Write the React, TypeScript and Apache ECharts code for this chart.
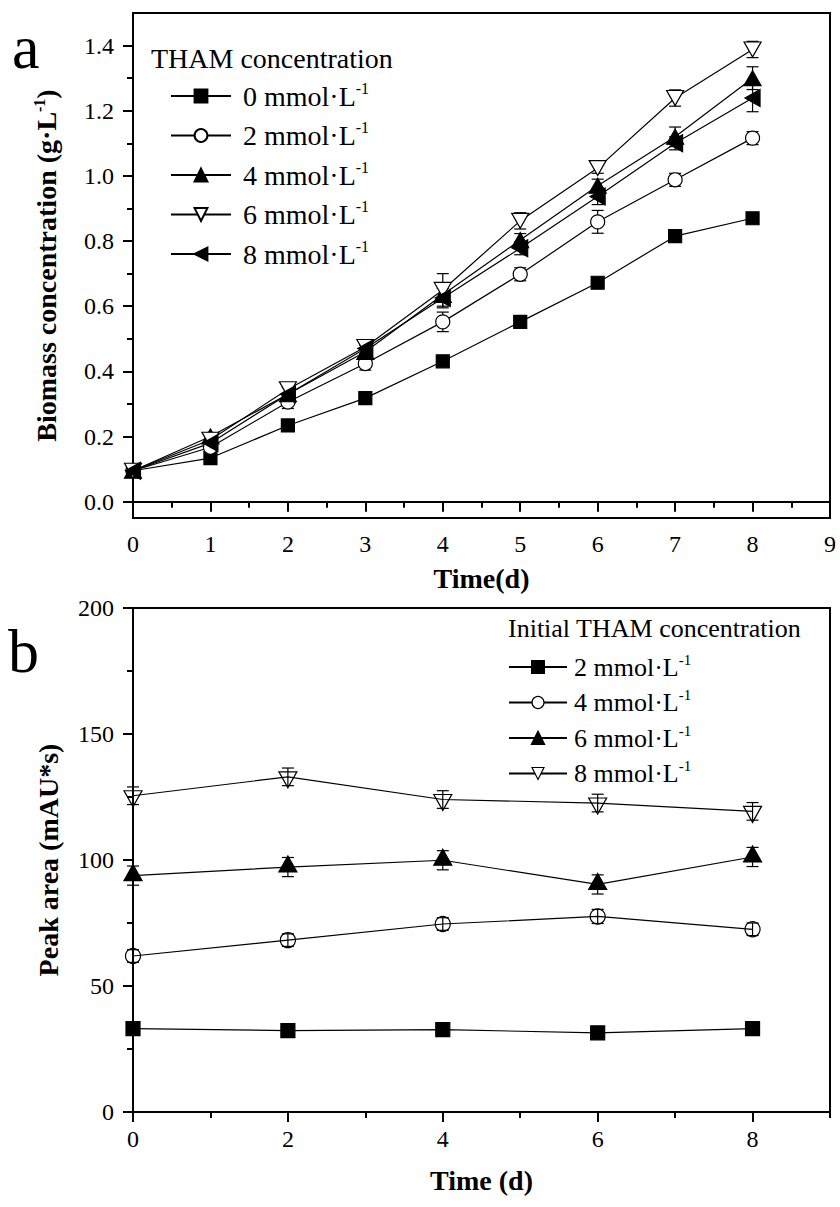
import React, { useEffect, useRef } from 'react';
import * as echarts from 'echarts';

const FONT = '"Liberation Serif", "Times New Roman", Times, serif';

// ---------- Panel a: biomass ----------
const daysA = [0, 1, 2, 3, 4, 5, 6, 7, 8];
const concA = ['0', '2', '4', '6', '8'];
const biomass0 = [0.095, 0.134, 0.234, 0.318, 0.431, 0.552, 0.672, 0.815, 0.870];
const biomass2 = [0.095, 0.167, 0.306, 0.424, 0.552, 0.698, 0.859, 0.988, 1.116];
const biomass4 = [0.095, 0.200, 0.330, 0.460, 0.635, 0.803, 0.970, 1.120, 1.300];
const biomass6 = [0.095, 0.190, 0.345, 0.475, 0.650, 0.862, 1.024, 1.239, 1.388];
const biomass8 = [0.095, 0.180, 0.330, 0.470, 0.625, 0.778, 0.937, 1.100, 1.239];
const errA0 = [0.005, 0.005, 0.006, 0.006, 0.008, 0.008, 0.008, 0.010, 0.010];
const errA2 = [0.006, 0.010, 0.020, 0.020, 0.030, 0.020, 0.035, 0.020, 0.020];
const errA4 = [0.006, 0.012, 0.020, 0.020, 0.020, 0.020, 0.020, 0.030, 0.035];
const errA6 = [0.006, 0.012, 0.020, 0.020, 0.050, 0.025, 0.016, 0.025, 0.025];
const errA8 = [0.006, 0.012, 0.020, 0.025, 0.030, 0.020, 0.025, 0.020, 0.042];
const yLabelsA = [0, 0.2, 0.4, 0.6, 0.8, 1.0, 1.2, 1.4];
const yMinorA = [0.1, 0.3, 0.5, 0.7, 0.9, 1.1, 1.3];

// ---------- Panel b: peak area ----------
const daysB = [0, 2, 4, 6, 8];
const concB = ['2', '4', '6', '8'];
const peak2 = [33.1, 32.3, 32.7, 31.4, 33.1];
const peak4 = [61.9, 68.2, 74.6, 77.6, 72.5];
const peak6 = [93.8, 97.2, 99.9, 90.3, 101.2];
const peak8 = [125.5, 133.0, 124.0, 122.6, 119.3];
const errB2 = [0.8, 0.8, 0.8, 0.8, 0.8];
const errB4 = [2.5, 2.5, 2.5, 2.8, 2.5];
const errB6 = [3.8, 3.8, 3.8, 3.8, 3.8];
const errB8 = [3.5, 3.5, 3.5, 3.5, 3.5];
const xLabelsB = [0, 2, 4, 6, 8];
const xMinorB = [1, 3, 5, 7, 9];

const DOWN = 'path://M0,0L2,0L1,2Z';
const LEFT = 'path://M2,0L2,2L0,1Z';

function lineSeries(name: string, xs: number[], ys: number[], axis: number, symbol: string, size: any, fill: string, offset?: number[]) {
  return {
    type: 'line',
    name,
    xAxisIndex: axis === 0 ? 0 : 1,
    yAxisIndex: axis === 0 ? 0 : 2,
    data: xs.map((x, i) => [x, ys[i]]),
    symbol,
    symbolSize: size,
    symbolOffset: offset || [0, 0],
    showSymbol: true,
    clip: false,
    z: 3,
    lineStyle: { color: '#000', width: 1.2 },
    itemStyle: { color: fill, borderColor: '#000', borderWidth: 1.2, opacity: 1 },
    emphasis: { disabled: true },
  };
}

function errSeries(name: string, xs: number[], ys: number[], es: number[], axis: number, half: number, z: number) {
  return {
    type: 'custom',
    name,
    xAxisIndex: axis === 0 ? 0 : 1,
    yAxisIndex: axis === 0 ? 0 : 2,
    z,
    silent: true,
    data: xs.map((x, i) => [x, ys[i], es[i]]),
    encode: { x: 0, y: 1 },
    renderItem: (_p: any, api: any) => {
      const x = api.value(0);
      const y = api.value(1);
      const e = api.value(2);
      const a = api.coord([x, y + e]);
      const b = api.coord([x, y - e]);
      const st = { stroke: '#000', lineWidth: 1.2 };
      return {
        type: 'group',
        children: [
          { type: 'line', shape: { x1: a[0], y1: a[1], x2: b[0], y2: b[1] }, style: st },
          { type: 'line', shape: { x1: a[0] - half, y1: a[1], x2: a[0] + half, y2: a[1] }, style: st },
          { type: 'line', shape: { x1: b[0] - half, y1: b[1], x2: b[0] + half, y2: b[1] }, style: st },
        ],
      };
    },
  };
}

const axisLineStyle = { lineStyle: { color: '#000', width: 2 } };
const labelStyle = { fontFamily: FONT, fontSize: 24, color: '#000' };

export default function App() {
  const ref = useRef<HTMLDivElement>(null);
  useEffect(() => {
    if (!ref.current) return;
    const chart = echarts.init(ref.current, undefined, { renderer: 'svg' });
    const option: any = {
      animation: false,
      backgroundColor: '#fff',
      grid: [
        { left: 133, top: 13, width: 697, height: 505, show: true, borderColor: '#000', borderWidth: 2, backgroundColor: 'transparent' },
        { left: 133, top: 608, width: 697, height: 504, show: true, borderColor: '#000', borderWidth: 2, backgroundColor: 'transparent' },
      ],
      xAxis: [
        {
          type: 'value', gridIndex: 0, min: 0, max: 9, interval: 1,
          axisLine: axisLineStyle,
          axisTick: { inside: false, length: 10, lineStyle: { color: '#000', width: 2 } },
          minorTick: { show: true, splitNumber: 2, length: 6, lineStyle: { color: '#000', width: 2 } },
          splitLine: { show: false },
          axisLabel: { ...labelStyle, margin: 14 },
          name: 'Time(d)', nameLocation: 'middle', nameGap: 46,
          nameTextStyle: { fontFamily: FONT, fontSize: 28, fontWeight: 'bold', color: '#000' },
        },
        {
          type: 'value', gridIndex: 1, min: 0, max: 9,
          axisLine: axisLineStyle,
          axisTick: { inside: false, length: 10, lineStyle: { color: '#000', width: 2 }, customValues: xLabelsB },
          splitLine: { show: false },
          axisLabel: { ...labelStyle, margin: 15, customValues: xLabelsB },
          name: 'Time (d)', nameLocation: 'middle', nameGap: 54,
          nameTextStyle: { fontFamily: FONT, fontSize: 28, fontWeight: 'bold', color: '#000' },
        },
        {
          type: 'value', gridIndex: 1, min: 0, max: 9, position: 'bottom',
          axisLine: { show: false },
          axisTick: { inside: false, length: 6, lineStyle: { color: '#000', width: 2 }, customValues: xMinorB },
          axisLabel: { show: false },
          splitLine: { show: false },
        },
      ],
      yAxis: [
        {
          type: 'value', gridIndex: 0, min: -0.05, max: 1.5,
          axisLine: axisLineStyle,
          axisTick: { inside: false, length: 10, lineStyle: { color: '#000', width: 2 }, customValues: yLabelsA },
          splitLine: { show: false },
          axisLabel: { ...labelStyle, margin: 19, customValues: yLabelsA, formatter: (v: number) => v.toFixed(1) },
          name: '{b|Biomass concentration (g·L}{s|-1}{b|)}', nameLocation: 'middle', nameGap: 72,
          nameTextStyle: {
            color: '#000',
            rich: {
              b: { fontFamily: FONT, fontSize: 28, fontWeight: 'bold', color: '#000', lineHeight: 30 },
              s: { fontFamily: FONT, fontSize: 16, fontWeight: 'bold', color: '#000', lineHeight: 10, verticalAlign: 'top' },
            },
          },
        },
        {
          type: 'value', gridIndex: 0, min: -0.05, max: 1.5, position: 'left',
          axisLine: { show: false },
          axisTick: { inside: false, length: 6, lineStyle: { color: '#000', width: 2 }, customValues: yMinorA },
          axisLabel: { show: false },
          splitLine: { show: false },
        },
        {
          type: 'value', gridIndex: 1, min: 0, max: 200, interval: 50,
          axisLine: axisLineStyle,
          axisTick: { inside: false, length: 10, lineStyle: { color: '#000', width: 2 } },
          minorTick: { show: true, splitNumber: 2, length: 6, lineStyle: { color: '#000', width: 2 } },
          splitLine: { show: false },
          axisLabel: { ...labelStyle, margin: 19 },
          name: 'Peak area (mAU*s)', nameLocation: 'middle', nameGap: 71,
          nameTextStyle: { fontFamily: FONT, fontSize: 28, fontWeight: 'bold', color: '#000' },
        },
      ],
      legend: [
        {
          orient: 'vertical', left: 170, top: 80, padding: 0, itemWidth: 60, itemHeight: 16, itemGap: 9.5,
          selectedMode: false,
          data: concA.map((c) => 'a' + c),
          formatter: (name: string) => `{n|${name.slice(1)} mmol·L}{s|-1}`,
          textStyle: {
            fontFamily: FONT, fontSize: 28, color: '#000',
            rich: {
              n: { fontFamily: FONT, fontSize: 28, color: '#000', lineHeight: 32, padding: [0, 0, 0, 7] },
              s: { fontFamily: FONT, fontSize: 16, color: '#000', lineHeight: 10, verticalAlign: 'top' },
            },
          },
        },
        {
          orient: 'vertical', left: 508, top: 652, padding: 0, itemWidth: 58, itemHeight: 15, itemGap: 7.5,
          selectedMode: false,
          data: concB.map((c) => ({ name: 'b' + c, itemStyle: c === '4' || c === '8' ? { color: '#fff', borderColor: '#000', borderWidth: 1.2 } : undefined })),
          formatter: (name: string) => `{n|${name.slice(1)} mmol·L}{s|-1}`,
          textStyle: {
            fontFamily: FONT, fontSize: 26, color: '#000',
            rich: {
              n: { fontFamily: FONT, fontSize: 26, color: '#000', lineHeight: 30, padding: [0, 0, 0, 2] },
              s: { fontFamily: FONT, fontSize: 15, color: '#000', lineHeight: 10, verticalAlign: 'top' },
            },
          },
        },
      ],
      graphic: [
        { type: 'text', left: 151, top: 44, style: { text: 'THAM concentration', fontFamily: FONT, fontSize: 28, fill: '#000' } },
        { type: 'text', left: 508, top: 615, style: { text: 'Initial THAM concentration', fontFamily: FONT, fontSize: 26, fill: '#000' } },
        { type: 'text', left: 12, top: 16, style: { text: 'a', fontFamily: FONT, fontSize: 62, fill: '#000' } },
        { type: 'text', left: 8, top: 620, style: { text: 'b', fontFamily: FONT, fontSize: 62, fill: '#000' } },
      ],
      series: [
        errSeries('ea0', daysA, biomass0, errA0, 0, 6, 1),
        errSeries('ea2', daysA, biomass2, errA2, 0, 6, 1),
        errSeries('ea4', daysA, biomass4, errA4, 0, 6, 1),
        errSeries('ea6', daysA, biomass6, errA6, 0, 6, 1),
        errSeries('ea8', daysA, biomass8, errA8, 0, 6, 1),
        lineSeries('a0', daysA, biomass0, 0, 'rect', 13, '#000'),
        lineSeries('a2', daysA, biomass2, 0, 'circle', 14, '#fff'),
        lineSeries('a4', daysA, biomass4, 0, 'triangle', [17, 15], '#000'),
        lineSeries('a6', daysA, biomass6, 0, DOWN, [17, 15], '#fff'),
        lineSeries('a8', daysA, biomass8, 0, LEFT, [15, 17], '#000'),
        lineSeries('b2', daysB, peak2, 1, 'rect', 14, '#000'),
        lineSeries('b4', daysB, peak4, 1, 'circle', 15, 'rgba(255,255,255,0)'),
        lineSeries('b6', daysB, peak6, 1, 'triangle', [18, 16], '#000', [0, -3]),
        lineSeries('b8', daysB, peak8, 1, DOWN, [18, 16], 'rgba(255,255,255,0)', [0, 3]),
        errSeries('eb2', daysB, peak2, errB2, 1, 6, 4),
        errSeries('eb4', daysB, peak4, errB4, 1, 6, 4),
        errSeries('eb6', daysB, peak6, errB6, 1, 6, 4),
        errSeries('eb8', daysB, peak8, errB8, 1, 6, 4),
      ],
    };
    chart.setOption(option);
    return () => chart.dispose();
  }, []);
  return <div ref={ref} style={{ position: 'fixed', left: 0, top: 0, width: 840, height: 1207, background: '#fff' }} />;
}
